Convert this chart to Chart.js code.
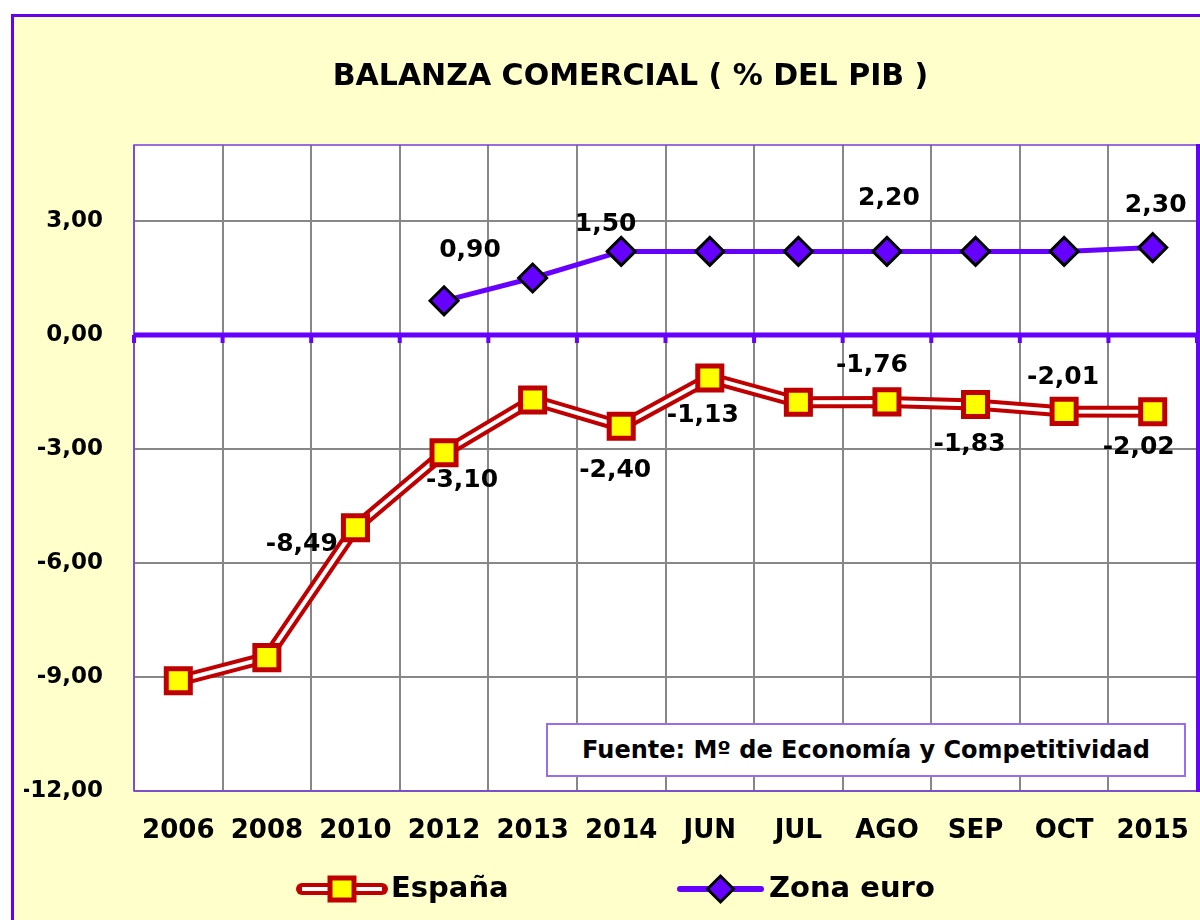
<!DOCTYPE html>
<html><head><meta charset="utf-8">
<script src="https://cdn.jsdelivr.net/npm/chart.js@4.4.0/dist/chart.umd.min.js"></script>
<style>
html,body{margin:0;padding:0;background:#fff;overflow:hidden;width:1200px;height:920px;}
#frame{position:absolute;left:11px;top:14px;width:1300px;height:1000px;border:3px solid #6A00F0;background:#FFFFCC;}
#wrap{position:absolute;left:14px;top:17px;width:1233px;height:903px;}
#src{position:absolute;left:546px;top:723px;width:636px;height:50px;border:2px solid #9A6CF0;background:#fff;font:bold 24px 'DejaVu Sans';color:#000;display:flex;align-items:center;justify-content:center;white-space:nowrap;}
</style>
</head><body>
<div id="frame"></div>
<div id="wrap"><canvas id="c" width="1233" height="903"></canvas></div>
<div id="src">Fuente: Mº de Economía y Competitividad</div>
<script>
const categories = ['2006','2008','2010','2012','2013','2014','JUN','JUL','AGO','SEP','OCT','2015'];
const espana   = [-9.10,-8.49,-5.07,-3.10,-1.71,-2.40,-1.13,-1.77,-1.76,-1.83,-2.01,-2.02];
const zonaEuro = [null,null,null,0.90,1.50,2.20,2.20,2.20,2.20,2.20,2.20,2.30];
const yTicks = [-12,-9,-6,-3,0,3];
const yMin = -12, yMax = 5;
const seriesNames = ['España','Zona euro'];
const titleText = 'BALANZA COMERCIAL ( % DEL PIB )';

const FONT = "'DejaVu Sans'";
const RED = '#C00000', PURPLE = '#6600FF', GRID = '#878787';
const fmt = v => v.toFixed(2).replace('.', ',');

// label placement (offsets from the point, in px)
const espLabelOffsets = {1:[35,-113],3:[18,28],5:[-6,44],6:[-7,38],8:[-15,-36],9:[-6,40],10:[-1,-34],11:[-14,36]};
const zonaLabelOffsets = {3:[26,-50],4:[73,-54],8:[2,-53],11:[3,-42]};

const framePlugin = {
  id: 'framePlugin',
  beforeDraw(chart) {
    const {ctx, chartArea: a} = chart;
    ctx.save(); ctx.fillStyle = '#fff';
    ctx.fillRect(a.left, a.top, a.right - a.left, a.bottom - a.top);
    ctx.restore();
  },
  beforeDatasetsDraw(chart) {
    const {ctx, chartArea: a, scales} = chart;
    const y0 = scales.y.getPixelForValue(0);
    ctx.save();
    ctx.strokeStyle = '#7A3CE0'; ctx.lineWidth = 1.5;
    ctx.strokeRect(a.left, a.top, a.right - a.left, a.bottom - a.top);
    ctx.strokeStyle = PURPLE; ctx.lineWidth = 4;
    ctx.beginPath(); ctx.moveTo(a.right + 1, a.top - 1); ctx.lineTo(a.right + 1, a.bottom + 1); ctx.stroke();
    ctx.lineWidth = 5; ctx.strokeStyle = PURPLE;
    ctx.beginPath(); ctx.moveTo(a.left, y0); ctx.lineTo(a.right, y0); ctx.stroke();
    ctx.fillStyle = PURPLE;
    const n = categories.length;
    const step = (scales.x.getPixelForValue(1) - scales.x.getPixelForValue(0));
    for (let i = 0; i <= n; i++) {
      const x = scales.x.getPixelForValue(0) - step / 2 + i * step;
      ctx.fillRect(x - 2, y0, 4, 8);
    }
    ctx.restore();
  },
  afterDatasetsDraw(chart) {
    const {ctx} = chart;
    ctx.save();
    ctx.font = 'bold 25px ' + FONT;
    ctx.fillStyle = '#000'; ctx.textAlign = 'center'; ctx.textBaseline = 'middle';
    const espMeta = chart.getDatasetMeta(1);
    Object.keys(espLabelOffsets).forEach(k => {
      const i = +k, p = espMeta.data[i], o = espLabelOffsets[k];
      ctx.fillText(fmt(espana[i]), p.x + o[0], p.y + o[1]);
    });
    const zMeta = chart.getDatasetMeta(0);
    Object.keys(zonaLabelOffsets).forEach(k => {
      const i = +k, p = zMeta.data[i], o = zonaLabelOffsets[k];
      ctx.fillText(fmt(zonaEuro[i]), p.x + o[0], p.y + o[1]);
    });
    ctx.restore();
  },
  afterDraw(chart) {
    const {ctx} = chart;
    ctx.save();
    // title
    ctx.fillStyle = '#000'; ctx.font = 'bold 30px ' + FONT;
    ctx.textAlign = 'center'; ctx.textBaseline = 'middle';
    ctx.fillText(titleText, 616.5, 60);
    // legend
    const ly = 872;
    ctx.lineCap = 'round'; ctx.strokeStyle = RED; ctx.lineWidth = 12;
    ctx.beginPath(); ctx.moveTo(288, ly); ctx.lineTo(368, ly); ctx.stroke();
    ctx.lineCap = 'butt'; ctx.strokeStyle = '#fff'; ctx.lineWidth = 4;
    ctx.beginPath(); ctx.moveTo(288, ly); ctx.lineTo(368, ly); ctx.stroke();
    ctx.fillStyle = '#FFFF00'; ctx.fillRect(316, ly - 11, 24, 22);
    ctx.strokeStyle = RED; ctx.lineWidth = 5; ctx.strokeRect(316, ly - 11, 24, 22);
    ctx.fillStyle = '#000'; ctx.font = 'bold 29px ' + FONT;
    ctx.textAlign = 'left'; ctx.textBaseline = 'middle';
    ctx.fillText(seriesNames[0], 377, ly);
    ctx.lineCap = 'round'; ctx.strokeStyle = PURPLE; ctx.lineWidth = 6;
    ctx.beginPath(); ctx.moveTo(666, ly); ctx.lineTo(747, ly); ctx.stroke();
    ctx.beginPath();
    const dx = 706.5, r = 13;
    ctx.moveTo(dx - r, ly); ctx.lineTo(dx, ly - r); ctx.lineTo(dx + r, ly); ctx.lineTo(dx, ly + r); ctx.closePath();
    ctx.fillStyle = PURPLE; ctx.fill();
    ctx.strokeStyle = '#000'; ctx.lineWidth = 3; ctx.lineJoin = 'miter'; ctx.stroke();
    ctx.fillStyle = '#000';
    ctx.fillText(seriesNames[1], 755, ly);
    ctx.restore();
  }
};

new Chart(document.getElementById('c'), {
  type: 'line',
  data: {
    labels: categories,
    datasets: [
      { label: seriesNames[1], data: zonaEuro, borderColor: PURPLE, borderWidth: 5,
        pointStyle: 'rectRot', pointRadius: 14, pointBackgroundColor: PURPLE,
        pointBorderColor: '#000', pointBorderWidth: 3, tension: 0, order: 1, spanGaps: false },
      { label: seriesNames[0], data: espana, borderColor: '#fff', borderWidth: 4,
        pointStyle: 'rect', pointRadius: 17, pointBackgroundColor: '#FFFF00',
        pointBorderColor: RED, pointBorderWidth: 5, tension: 0, order: 2 },
      { label: seriesNames[0] + ' (contorno)', data: espana, borderColor: RED, borderWidth: 12,
        pointRadius: 0, tension: 0, order: 3 }
    ]
  },
  options: {
    responsive: false, animation: false, devicePixelRatio: 1,
    layout: { padding: { left: 10, right: 50, top: 128, bottom: 49 } },
    plugins: { legend: { display: false }, tooltip: { enabled: false }, title: { display: false } },
    scales: {
      x: {
        offset: true,
        grid: { offset: true, color: GRID, lineWidth: 2, drawTicks: false },
        border: { display: false },
        ticks: { color: '#000', font: { family: FONT, size: 26, weight: 'bold' }, padding: 25, maxRotation: 0, autoSkip: false },
        afterFit(s) { s.height = 80; }
      },
      y: {
        min: yMin, max: yMax,
        grid: { color: c => (c.tick && c.tick.value === 0) ? 'rgba(0,0,0,0)' : GRID, lineWidth: 2, drawTicks: false },
        border: { display: false },
        ticks: { color: '#000', font: { family: FONT, size: 23, weight: 'bold' }, padding: 31, callback: v => fmt(v) },
        afterBuildTicks(s) { s.ticks = yTicks.map(v => ({ value: v })); },
        afterFit(s) { s.width = 110; }
      }
    }
  },
  plugins: [framePlugin]
});
</script>
</body></html>
